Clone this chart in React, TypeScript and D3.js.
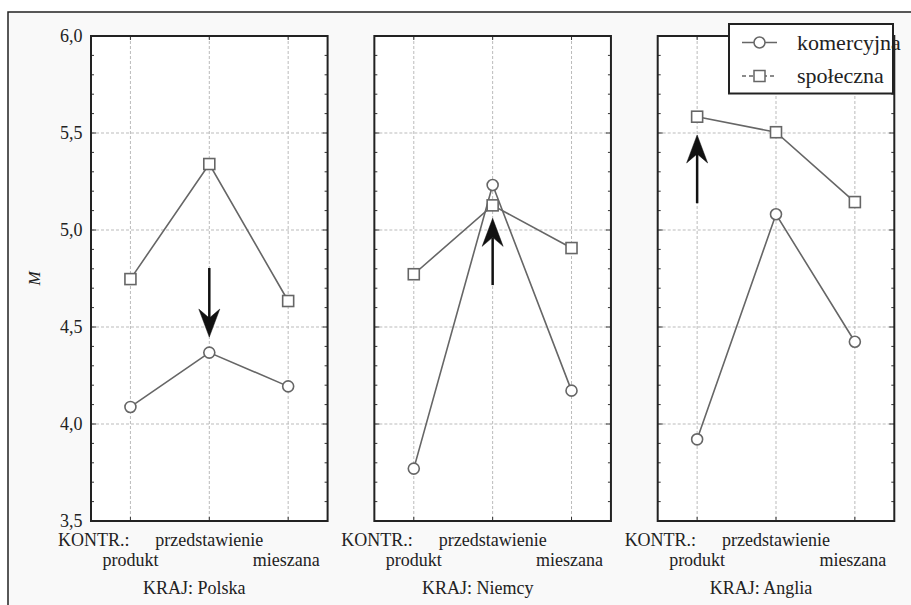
import React from "react";
import * as d3 from "d3";

const countries = ["Polska", "Niemcy", "Anglia"];
const categories = ["produkt", "przedstawienie", "mieszana"];
const komercyjna = [
  [4.088, 4.368, 4.194],
  [3.770, 5.232, 4.172],
  [3.921, 5.081, 4.424],
];
const spoleczna = [
  [4.747, 5.340, 4.634],
  [4.772, 5.127, 4.907],
  [5.584, 5.504, 5.144],
];
// arrows: [category index, from value, to value]
const arrows = [
  [1, 4.804, 4.448],
  [1, 4.716, 5.060],
  [0, 5.138, 5.490],
];
const majorTicks = [3.5, 4.0, 4.5, 5.0, 5.5, 6.0];
const minorTicks = d3.range(35, 61).map((v) => v / 10);

const W = 911;
const H = 605;
const top = 36;
const bottom = 521;
const FONT = "'Liberation Serif', 'Times New Roman', Times, serif";
const LINE = "#666";
const TXT = { fontFamily: FONT };

export default function App() {
  const y = d3.scaleLinear().domain([3.5, 6.0]).range([bottom, top]);
  const panel = d3.scaleBand().domain(countries).range([91, 894.3]).paddingInner(0.165);
  const bw = panel.bandwidth();
  const fmt = (v: number) => d3.format(".1f")(v).replace(".", ",");

  const arrowPath = (x: number, y0: number, y1: number) => {
    const dir = y1 > y0 ? 1 : -1;
    const headLen = 28;
    const half = 10.5;
    const notch = 9;
    const base = y1 - dir * headLen;
    return {
      shaft: `M${x},${y0}L${x},${base + dir * notch}`,
      head: `M${x},${y1}L${x - half},${base}L${x},${base + dir * notch}L${x + half},${base}Z`,
    };
  };

  return (
    <svg width={W} height={H} style={{ position: "absolute", left: 0, top: 0, fontFamily: FONT }}>
      <rect x={0} y={0} width={W} height={H} fill="#fff" />
      <rect x={8} y={12} width={W + 10} height={H + 10} fill="#f9f9f9" stroke="#222" strokeWidth={1.5} />
      {majorTicks.map((t) => (
        <text key={t} x={82.5} y={y(t)} dy="0.35em" textAnchor="end" fontSize={18} fill="#222" style={TXT}>
          {fmt(t)}
        </text>
      ))}
      <text
        transform={`translate(40,${(top + bottom) / 2}) rotate(-90)`}
        textAnchor="middle"
        fontSize={17}
        fontStyle="italic"
        fill="#222"
        style={TXT}
      >
        M
      </text>
      {countries.map((c, pi) => {
        const x0 = panel(c) as number;
        const x = d3.scalePoint<string>().domain(categories).range([x0, x0 + bw]).padding(0.5);
        const line = d3
          .line<number>()
          .x((_, i) => x(categories[i]) as number)
          .y((d) => y(d));
        const [ai, av0, av1] = arrows[pi];
        const ap = arrowPath(x(categories[ai]) as number, y(av0), y(av1));
        return (
          <g key={c}>
            <rect x={x0} y={top} width={bw} height={bottom - top} fill="#fff" />
            {majorTicks.slice(1, -1).map((t) => (
              <line key={t} x1={x0} x2={x0 + bw} y1={y(t)} y2={y(t)} stroke="#bbb" strokeWidth={1} strokeDasharray="3,2" />
            ))}
            {categories.map((k) => (
              <line key={k} x1={x(k)} x2={x(k)} y1={top} y2={bottom} stroke="#bbb" strokeWidth={1} strokeDasharray="3,2" />
            ))}
            {minorTicks.map((t) => {
              const len = majorTicks.some((m) => Math.abs(m - t) < 1e-6) ? 5 : 3;
              return (
                <g key={t}>
                  <line x1={x0} x2={x0 + len} y1={y(t)} y2={y(t)} stroke="#333" strokeWidth={1} />
                  <line x1={x0 + bw} x2={x0 + bw - len} y1={y(t)} y2={y(t)} stroke="#333" strokeWidth={1} />
                </g>
              );
            })}
            {categories.map((k) => (
              <g key={k}>
                <line x1={x(k)} x2={x(k)} y1={top} y2={top + 4} stroke="#333" strokeWidth={1} />
                <line x1={x(k)} x2={x(k)} y1={bottom} y2={bottom - 4} stroke="#333" strokeWidth={1} />
              </g>
            ))}
            <rect x={x0} y={top} width={bw} height={bottom - top} fill="none" stroke="#222" strokeWidth={2} />
            <path d={line(spoleczna[pi]) || ""} fill="none" stroke={LINE} strokeWidth={1.6} />
            <path d={line(komercyjna[pi]) || ""} fill="none" stroke={LINE} strokeWidth={1.6} />
            {spoleczna[pi].map((v, i) => (
              <rect
                key={i}
                x={(x(categories[i]) as number) - 5.5}
                y={y(v) - 5.5}
                width={11}
                height={11}
                fill="#fff"
                stroke={LINE}
                strokeWidth={1.6}
              />
            ))}
            {komercyjna[pi].map((v, i) => (
              <circle key={i} cx={x(categories[i])} cy={y(v)} r={5.5} fill="#fff" stroke={LINE} strokeWidth={1.6} />
            ))}
            <path d={ap.shaft} stroke="#111" strokeWidth={2.5} fill="none" />
            <path d={ap.head} fill="#111" stroke="#111" strokeWidth={0.5} />
            <text x={(x(categories[0]) as number) - 1} y={546} textAnchor="end" fontSize={18} fill="#222" style={TXT}>
              KONTR.:
            </text>
            <text x={x(categories[1])} y={546} textAnchor="middle" fontSize={18} fill="#222" style={TXT}>
              {categories[1]}
            </text>
            <text x={x(categories[0])} y={566} textAnchor="middle" fontSize={18} fill="#222" style={TXT}>
              {categories[0]}
            </text>
            <text x={(x(categories[2]) as number) - 2} y={566} textAnchor="middle" fontSize={18} fill="#222" style={TXT}>
              {categories[2]}
            </text>
            <text x={x0 + bw / 2 - 15} y={594} textAnchor="middle" fontSize={18} fill="#222" style={TXT}>
              KRAJ: {c}
            </text>
          </g>
        );
      })}
      <g>
        <rect x={729} y={24} width={164} height={69.5} fill="#fff" stroke="#222" strokeWidth={2} />
        <line x1={742} x2={777} y1={42.5} y2={42.5} stroke={LINE} strokeWidth={1.5} />
        <circle cx={759.5} cy={42.5} r={5.5} fill="#fff" stroke={LINE} strokeWidth={1.5} />
        <text x={797} y={42.5} dy="0.33em" fontSize={22} fill="#222" style={TXT}>
          komercyjna
        </text>
        <line x1={742} x2={777} y1={76} y2={76} stroke={LINE} strokeWidth={1.5} strokeDasharray="4,3" />
        <rect x={754} y={70.5} width={11} height={11} fill="#fff" stroke={LINE} strokeWidth={1.5} />
        <text x={797} y={76} dy="0.33em" fontSize={22} fill="#222" style={TXT}>
          społeczna
        </text>
      </g>
    </svg>
  );
}
